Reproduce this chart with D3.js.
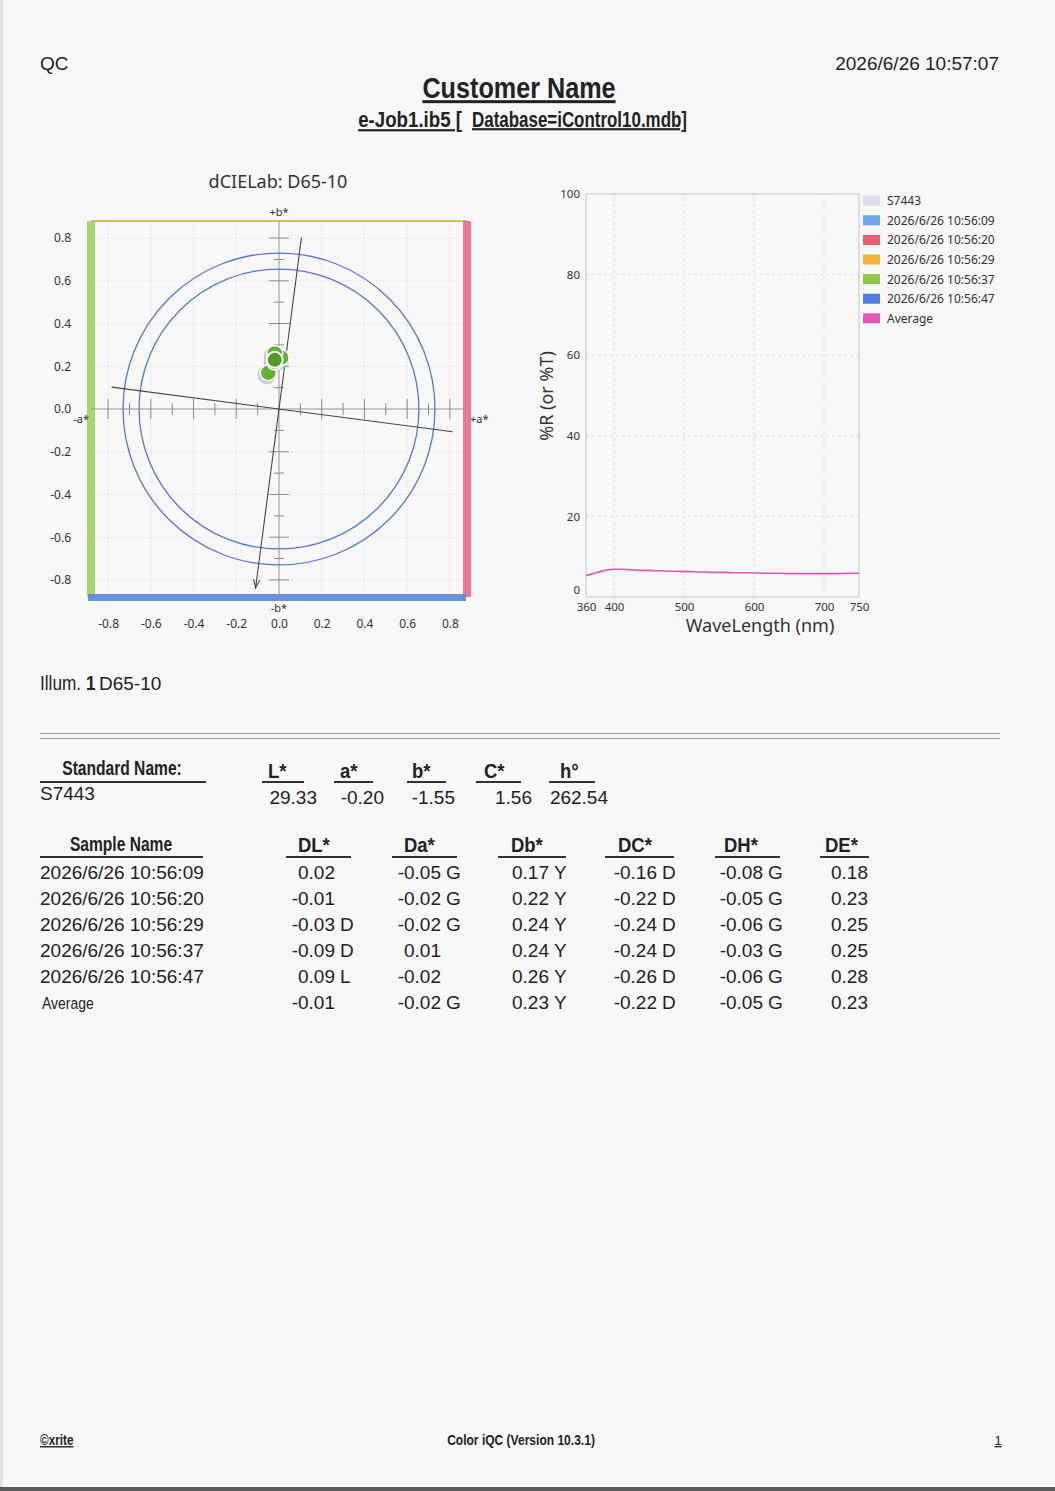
<!DOCTYPE html>
<html>
<head>
<meta charset="utf-8">
<script src="https://cdn.jsdelivr.net/npm/d3@7"></script>
<style>
  html, body { margin: 0; padding: 0; background: #f8f8f8; }
  svg { display: block; }
  .rep { font-family: "Liberation Sans", Arial, sans-serif; fill: #222; }
  .arial { font-family: "Liberation Sans", Arial, sans-serif; fill: #222; }
  .ch { font-family: "Noto Sans", "Open Sans", sans-serif; fill: #333; }
  .ul { text-decoration: underline; }
</style>
</head>
<body>
<svg id="page" width="1055" height="1491"></svg>
<script>
// ---------- data
const reportDate = "2026/6/26 10:57:07";
const customerName = "Customer Name";
const jobName = "e-Job1.ib5 [";
const dbName = "Database=iControl10.mdb]";
const illumName = "D65-10";

const labTicks = [-0.8, -0.6, -0.4, -0.2, 0.0, 0.2, 0.4, 0.6, 0.8];
const labMinorTicks = [-0.8, -0.7, -0.6, -0.5, -0.4, -0.3, -0.2, -0.1, 0.1, 0.2, 0.3, 0.4, 0.5, 0.6, 0.7, 0.8];
const tolRadii = [0.655, 0.73];

const stdName = "S7443";
const stdHeaders = ["L*", "a*", "b*", "C*", "h°"];
const stdValues = [29.33, -0.20, -1.55, 1.56, 262.54];

const sampleNames = ["2026/6/26 10:56:09", "2026/6/26 10:56:20", "2026/6/26 10:56:29", "2026/6/26 10:56:37", "2026/6/26 10:56:47", "Average"];
const diffHeaders = ["DL*", "Da*", "Db*", "DC*", "DH*", "DE*"];
const dL = [0.02, -0.01, -0.03, -0.09, 0.09, -0.01];
const dLFlag = ["", "", "D", "D", "L", ""];
const da = [-0.05, -0.02, -0.02, 0.01, -0.02, -0.02];
const daFlag = ["G", "G", "G", "", "", "G"];
const db = [0.17, 0.22, 0.24, 0.24, 0.26, 0.23];
const dbFlag = ["Y", "Y", "Y", "Y", "Y", "Y"];
const dC = [-0.16, -0.22, -0.24, -0.24, -0.26, -0.22];
const dCFlag = ["D", "D", "D", "D", "D", "D"];
const dH = [-0.08, -0.05, -0.06, -0.03, -0.06, -0.05];
const dHFlag = ["G", "G", "G", "G", "G", "G"];
const dE = [0.18, 0.23, 0.25, 0.25, 0.28, 0.23];
const dEFlag = ["", "", "", "", "", ""];

const wavelengths = [360, 370, 380, 390, 400, 410, 420, 430, 440, 450, 460, 470, 480, 490, 500, 510, 520, 530, 540, 550, 560, 570, 580, 590, 600, 610, 620, 630, 640, 650, 660, 670, 680, 690, 700, 710, 720, 730, 740, 750];
const avgReflect = [5.3, 5.8, 6.3, 6.7, 6.9, 6.9, 6.8, 6.7, 6.6, 6.6, 6.5, 6.5, 6.4, 6.4, 6.3, 6.3, 6.2, 6.2, 6.1, 6.1, 6.1, 6.0, 6.0, 6.0, 6.0, 5.9, 5.9, 5.9, 5.9, 5.8, 5.8, 5.8, 5.8, 5.8, 5.8, 5.8, 5.8, 5.9, 5.9, 5.9];
const specXTicks = [360, 400, 500, 600, 700, 750];
const specYTicks = [0, 20, 40, 60, 80, 100];

const legendNames = ["S7443", "2026/6/26 10:56:09", "2026/6/26 10:56:20", "2026/6/26 10:56:29", "2026/6/26 10:56:37", "2026/6/26 10:56:47", "Average"];
const legendColors = ["#dedced", "#72a3ea", "#ea6070", "#f2b43a", "#8fc64a", "#4f7fe2", "#e455b4"];

// ---------- page
const svg = d3.select("#page");
svg.append("rect").attr("width", 1055).attr("height", 1491).attr("fill", "#f8f8f8");
svg.append("rect").attr("x", 0).attr("y", 0).attr("width", 3).attr("height", 1491).attr("fill", "#e4e4e4");
svg.append("rect").attr("x", 0).attr("y", 1487).attr("width", 1055).attr("height", 4).attr("fill", "#5a5a5a");

// condensed report text (no narrow face installed, so squeeze the regular one)
function narrow(x, y, size, txt, opts) {
  opts = opts || {};
  const g = svg.append("g").attr("transform", `translate(${x},${y}) scale(${opts.sx || 0.8},1)`);
  const t = g.append("text").attr("class", "rep" + (opts.ul ? " ul" : ""))
    .attr("font-size", size).text(txt);
  if (opts.bold) t.attr("font-weight", "bold");
  if (opts.anchor) t.attr("text-anchor", opts.anchor);
  return t;
}

//------------- header
function drawHeader() {
  svg.append("text").attr("class", "arial").attr("x", 40).attr("y", 70).attr("font-size", 19).text("QC");
  svg.append("text").attr("class", "arial").attr("x", 999).attr("y", 70).attr("font-size", 19)
    .attr("text-anchor", "end").text(reportDate);
  narrow(519, 98, 30, customerName, { bold: true, ul: true, anchor: "middle", sx: 0.84 });
  narrow(462, 127, 22, jobName, { bold: true, ul: true, anchor: "end", sx: 0.85 });
  narrow(472, 127, 22, dbName, { bold: true, ul: true, sx: 0.77 });
}

//------------- a*b* difference plot
function drawLabPlot() {
  const x = d3.scaleLinear().domain([-0.88, 0.88]).range([91, 467]);
  const y = d3.scaleLinear().domain([-0.88, 0.88]).range([597, 221]);
  const g = svg.append("g");

  g.append("text").attr("class", "ch").attr("x", 278).attr("y", 188).attr("font-size", 18)
    .attr("text-anchor", "middle").text("dCIELab: " + illumName);

  // faint grid
  g.selectAll(".gx").data(labTicks).enter().append("line")
    .attr("x1", d => x(d)).attr("x2", d => x(d)).attr("y1", y(0.88)).attr("y2", y(-0.88))
    .attr("stroke", "#e6e6e6").attr("stroke-dasharray", "2,2");
  g.selectAll(".gy").data(labTicks).enter().append("line")
    .attr("y1", d => y(d)).attr("y2", d => y(d)).attr("x1", x(-0.88)).attr("x2", x(0.88))
    .attr("stroke", "#e6e6e6").attr("stroke-dasharray", "2,2");

  // hue coloured borders
  g.append("line").attr("x1", x(-0.88)).attr("x2", x(0.88)).attr("y1", y(0.88)).attr("y2", y(0.88))
    .attr("stroke", "#c9c46a").attr("stroke-width", 2);
  g.append("rect").attr("x", x(-0.88) - 4).attr("y", y(0.88)).attr("width", 8).attr("height", y(-0.88) - y(0.88))
    .attr("fill", "#9dd262").attr("opacity", 0.9);
  g.append("rect").attr("x", x(0.88) - 4).attr("y", y(0.88)).attr("width", 8).attr("height", y(-0.88) - y(0.88))
    .attr("fill", "#e86c86").attr("opacity", 0.9);
  g.append("rect").attr("x", x(-0.88) - 3).attr("y", y(-0.88) - 3).attr("width", x(0.88) - x(-0.88) + 2).attr("height", 7)
    .attr("fill", "#5c86dc").attr("opacity", 0.9);

  // axes through origin
  g.append("line").attr("x1", x(-0.88)).attr("x2", x(0.88)).attr("y1", y(0)).attr("y2", y(0))
    .attr("stroke", "#9a9a9a");
  g.append("line").attr("y1", y(-0.88)).attr("y2", y(0.88)).attr("x1", x(0)).attr("x2", x(0))
    .attr("stroke", "#9a9a9a");
  const isMajor = d => Math.abs(Math.round(d * 10)) % 2 === 0;
  g.selectAll(".ta").data(labMinorTicks).enter().append("line")
    .attr("x1", d => x(d)).attr("x2", d => x(d))
    .attr("y1", d => y(0) - (isMajor(d) ? 10 : 6)).attr("y2", d => y(0) + (isMajor(d) ? 10 : 6))
    .attr("stroke", "#8a8a8a");
  g.selectAll(".tb").data(labMinorTicks).enter().append("line")
    .attr("y1", d => y(d)).attr("y2", d => y(d))
    .attr("x1", d => x(0) - (isMajor(d) ? 10 : 5)).attr("x2", d => x(0) + (isMajor(d) ? 10 : 5))
    .attr("stroke", "#8a8a8a");

  // tolerance circles
  g.selectAll(".tol").data(tolRadii).enter().append("circle")
    .attr("cx", x(0)).attr("cy", y(0)).attr("r", d => x(d) - x(0))
    .attr("fill", "none").attr("stroke", "#5577d4").attr("stroke-width", 1.3);

  // hue / chroma lines from standard hue
  const h = stdValues[4] * Math.PI / 180;
  const ca = Math.cos(h), sb = Math.sin(h);
  const hueEnd = 0.845, hueBack = 0.81, perpA = 0.79, perpB = 0.82;
  g.append("line").attr("x1", x(-ca * hueBack)).attr("y1", y(-sb * hueBack))
    .attr("x2", x(ca * hueEnd)).attr("y2", y(sb * hueEnd)).attr("stroke", "#444").attr("stroke-width", 1.1);
  g.append("line").attr("x1", x(sb * perpA)).attr("y1", y(-ca * perpA))
    .attr("x2", x(-sb * perpB)).attr("y2", y(ca * perpB)).attr("stroke", "#444").attr("stroke-width", 1.1);
  // arrow head at hue end
  const ex = x(ca * hueEnd), ey = y(sb * hueEnd);
  const ang = Math.atan2(ey - y(0), ex - x(0));
  const ah = 9, aw = 0.35;
  g.append("path")
    .attr("d", `M${ex - ah * Math.cos(ang - aw)},${ey - ah * Math.sin(ang - aw)} L${ex},${ey} L${ex - ah * Math.cos(ang + aw)},${ey - ah * Math.sin(ang + aw)}`)
    .attr("fill", "none").attr("stroke", "#444").attr("stroke-width", 1.1);

  // sample points
  const pts = d3.range(5).map(i => ({ a: da[i], b: db[i] }));
  g.selectAll(".sh").data(pts).enter().append("circle")
    .attr("cx", d => x(d.a) - 1.5).attr("cy", d => y(d.b) + 2).attr("r", 9.5)
    .attr("fill", "#bdbdbd").attr("opacity", 0.7);
  g.selectAll(".pt").data(pts).enter().append("circle")
    .attr("cx", d => x(d.a)).attr("cy", d => y(d.b)).attr("r", 8)
    .attr("fill", "#62b036").attr("stroke", "#fff").attr("stroke-width", 1.5);
  g.append("circle").attr("cx", x(da[5])).attr("cy", y(db[5])).attr("r", 8)
    .attr("fill", "#4e9a2a").attr("stroke", "#fff").attr("stroke-width", 2);

  // tick labels
  const fmt = d => d.toFixed(1);
  const xa = g.append("g").attr("transform", "translate(0,619)")
    .call(d3.axisBottom(x).tickValues(labTicks).tickSize(0).tickPadding(0).tickFormat(fmt));
  const ya = g.append("g").attr("transform", "translate(74,0)")
    .call(d3.axisLeft(y).tickValues(labTicks).tickSize(0).tickPadding(3).tickFormat(fmt));
  [xa, ya].forEach(a => {
    a.select(".domain").remove();
    a.attr("font-family", null);
    a.selectAll("text").attr("class", "ch").attr("font-size", 12);
  });

  // axis names
  g.append("text").attr("class", "ch").attr("x", x(0)).attr("y", 216).attr("font-size", 11)
    .attr("text-anchor", "middle").text("+b*");
  g.append("text").attr("class", "ch").attr("x", x(0)).attr("y", 612).attr("font-size", 11)
    .attr("text-anchor", "middle").text("-b*");
  g.append("text").attr("class", "ch").attr("x", 89).attr("y", 423).attr("font-size", 11)
    .attr("text-anchor", "end").text("-a*");
  g.append("text").attr("class", "ch").attr("x", 470).attr("y", 423).attr("font-size", 11).text("+a*");
}

//------------- spectral curve
function drawSpectral() {
  const x = d3.scaleLinear().domain([360, 750]).range([586, 859]);
  const y = d3.scaleLinear().domain([0, 100]).range([597, 194]);
  const g = svg.append("g");

  g.selectAll(".gx").data(specXTicks.slice(1, 5)).enter().append("line")
    .attr("x1", d => x(d)).attr("x2", d => x(d)).attr("y1", y(0)).attr("y2", y(100))
    .attr("stroke", "#e2e2e2").attr("stroke-dasharray", "3,3");
  g.selectAll(".gy").data(specYTicks.slice(1, 5)).enter().append("line")
    .attr("y1", d => y(d)).attr("y2", d => y(d)).attr("x1", x(360)).attr("x2", x(750))
    .attr("stroke", "#e2e2e2").attr("stroke-dasharray", "3,3");
  g.append("rect").attr("x", x(360)).attr("y", y(100)).attr("width", x(750) - x(360)).attr("height", y(0) - y(100))
    .attr("fill", "none").attr("stroke", "#c4c4c4");

  const line = d3.line().x((d, i) => x(wavelengths[i])).y(d => y(d)).curve(d3.curveMonotoneX);
  g.append("path").datum(avgReflect).attr("d", line)
    .attr("fill", "none").attr("stroke", legendColors[6]).attr("stroke-width", 1.6);

  const xa = g.append("g").attr("transform", "translate(0,603)")
    .call(d3.axisBottom(x).tickValues(specXTicks).tickSize(0).tickPadding(0));
  const ya = g.append("g").attr("transform", "translate(582,0)")
    .call(d3.axisLeft(y).tickValues(specYTicks).tickSize(0).tickPadding(2));
  [xa, ya].forEach(a => {
    a.select(".domain").remove();
    a.attr("font-family", null);
    a.selectAll("text").attr("class", "ch").attr("font-size", 11.5);
  });
  // zero label is lifted inside the frame
  ya.selectAll(".tick").filter(d => d === 0).select("text").attr("dy", "-0.3em");

  g.append("text").attr("class", "ch").attr("font-size", 18).attr("text-anchor", "middle")
    .attr("transform", "translate(553,396) rotate(-90)").text("%R (or %T)");
  g.append("text").attr("class", "ch").attr("x", 760).attr("y", 632).attr("font-size", 18)
    .attr("text-anchor", "middle").text("WaveLength (nm)");

  // legend
  const lg = g.selectAll(".lg").data(legendNames).enter().append("g")
    .attr("transform", (d, i) => `translate(863,${200.7 + i * 19.6})`);
  lg.append("rect").attr("x", 0).attr("y", -5).attr("width", 17).attr("height", 10)
    .attr("fill", (d, i) => legendColors[i]);
  lg.append("text").attr("class", "ch").attr("x", 24).attr("y", 4.5).attr("font-size", 12)
    .text(d => d);
}

//------------- tables
function drawTables() {
  narrow(40, 690, 21, "Illum.", { sx: 0.82 });
  narrow(86, 690, 20, "1", { bold: true, sx: 0.85 });
  svg.append("text").attr("class", "arial").attr("x", 99).attr("y", 690).attr("font-size", 19).text(illumName);

  svg.append("line").attr("x1", 40).attr("x2", 1000).attr("y1", 733.5).attr("y2", 733.5).attr("stroke", "#9a9a9a");
  svg.append("line").attr("x1", 40).attr("x2", 1000).attr("y1", 738.5).attr("y2", 738.5).attr("stroke", "#9a9a9a");

  // standard
  narrow(122, 775, 20, "Standard Name:", { bold: true, anchor: "middle", sx: 0.78 });
  svg.append("line").attr("x1", 40).attr("x2", 206).attr("y1", 782).attr("y2", 782).attr("stroke", "#333").attr("stroke-width", 2);
  svg.append("text").attr("class", "arial").attr("x", 40).attr("y", 800).attr("font-size", 19).text(stdName);

  const stdUl = [[262, 304], [334, 373], [407, 446], [476, 521], [549, 595]];
  const stdTx = [268, 340, 412, 484, 560];
  const stdRight = [317, 384, 455, 532, 608];
  stdHeaders.forEach((hd, i) => {
    narrow(stdTx[i], 778, 21, hd, { bold: true, sx: 0.88 });
    svg.append("line").attr("x1", stdUl[i][0]).attr("x2", stdUl[i][1]).attr("y1", 782).attr("y2", 782)
      .attr("stroke", "#333").attr("stroke-width", 2);
    svg.append("text").attr("class", "arial").attr("x", stdRight[i]).attr("y", 804).attr("font-size", 19)
      .attr("text-anchor", "end").text(stdValues[i].toFixed(2));
  });

  // differences
  narrow(121, 851, 20, "Sample Name", { bold: true, anchor: "middle", sx: 0.78 });
  svg.append("line").attr("x1", 40).attr("x2", 203).attr("y1", 857).attr("y2", 857).attr("stroke", "#333").attr("stroke-width", 2);

  const diffUl = [[286, 351], [392, 457], [498, 566], [605, 674], [715, 780], [820, 869]];
  const diffTx = [298, 404, 511, 618, 724, 825];
  const numRight = [335, 441, 549, 657, 763, 868];
  const cols = [dL, da, db, dC, dH, dE];
  const flags = [dLFlag, daFlag, dbFlag, dCFlag, dHFlag, dEFlag];
  diffHeaders.forEach((hd, i) => {
    narrow(diffTx[i], 852, 21, hd, { bold: true, sx: 0.88 });
    svg.append("line").attr("x1", diffUl[i][0]).attr("x2", diffUl[i][1]).attr("y1", 857).attr("y2", 857)
      .attr("stroke", "#333").attr("stroke-width", 2);
  });

  sampleNames.forEach((nm, r) => {
    const yy = 879 + r * 26;
    if (nm === "Average")
      narrow(42, yy, 17, nm, { sx: 0.82 });
    else
      svg.append("text").attr("class", "arial").attr("x", 40).attr("y", yy).attr("font-size", 19).text(nm);
    cols.forEach((c, i) => {
      svg.append("text").attr("class", "arial").attr("x", numRight[i]).attr("y", yy).attr("font-size", 19)
        .attr("text-anchor", "end").text(c[r].toFixed(2));
      if (flags[i][r])
        svg.append("text").attr("class", "arial").attr("x", numRight[i] + 5).attr("y", yy).attr("font-size", 19)
          .text(flags[i][r]);
    });
  });
}

//------------- footer
function drawFooter() {
  narrow(40, 1445, 14, "©xrite", { bold: true, ul: true, sx: 0.84 });
  narrow(521, 1445, 14, "Color iQC (Version 10.3.1)", { bold: true, anchor: "middle", sx: 0.86 });
  svg.append("text").attr("class", "arial ul").attr("x", 998).attr("y", 1445).attr("font-size", 13)
    .attr("text-anchor", "middle").text("1");
}

drawHeader();
drawLabPlot();
drawSpectral();
drawTables();
drawFooter();
</script>
</body>
</html>
